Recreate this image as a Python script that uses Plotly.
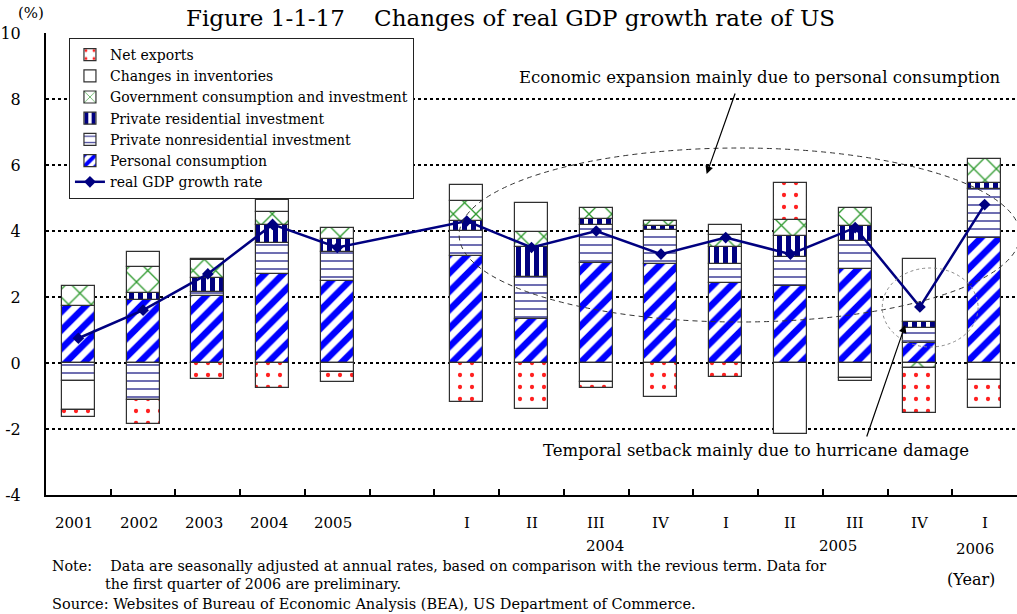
import plotly.graph_objects as go

# Contributions to real GDP growth (percentage points, SAAR)
years = ["2001", "2002", "2003", "2004", "2005"]
quarters = ["I", "II", "III", "IV", "I", "II", "III", "IV", "I"]
quarter_years = ["2004", "2005", "2006"]
y_ticks = [-4, -2, 0, 2, 4, 6, 8, 10]
y_tick_text = ["-4", "-2", "0", "2", "4", "6", "8", "10"]

personal_consumption = [1.73, 1.91, 2.03, 2.69, 2.47, 3.25, 1.32, 3.02, 2.99, 2.41, 2.33, 2.85, 0.60, 3.80]
private_nonres = [-0.54, -1.11, 0.13, 0.94, 0.88, 0.75, 1.28, 1.16, 1.04, 0.59, 0.89, 0.86, 0.45, 1.47]
private_res = [0.00, 0.20, 0.41, 0.55, 0.40, 0.31, 0.93, 0.17, 0.12, 0.52, 0.64, 0.44, 0.20, 0.17]
government = [0.61, 0.81, 0.55, 0.41, 0.35, 0.61, 0.44, 0.35, 0.15, 0.37, 0.46, 0.54, -0.16, 0.74]
inventories = [-0.88, 0.43, 0.03, 0.34, -0.27, 0.48, 0.87, -0.57, 0.00, 0.30, -2.16, -0.45, 1.90, -0.51]
net_exports = [-0.23, -0.74, -0.48, -0.75, -0.31, -1.17, -1.38, -0.18, -1.02, -0.41, 1.12, -0.10, -1.34, -0.84]
gdp_growth = [0.75, 1.6, 2.7, 4.2, 3.5, 4.3, 3.5, 4.0, 3.3, 3.8, 3.3, 4.1, 1.7, 4.8]

FONT = "DejaVu Serif"
NBSP = "\u00a0"

# annual bars, one empty slot, then quarterly bars
x_pos = list(range(len(years))) + [len(years) + 1 + i for i in range(len(quarters))]
labels = years + quarters

# pixel helpers for the plot area (44..1017 wide, 33..495 high)
PX0, PW, PY0, PH = 44.0, 973.0, 33.0, 462.0
X_MIN, X_MAX, Y_MIN, Y_MAX = -0.5, 14.5, -4.0, 10.0


def dx(px):
    return X_MIN + (px - PX0) / PW * (X_MAX - X_MIN)


def dy(py):
    return Y_MAX - (py - PY0) / PH * (Y_MAX - Y_MIN)


def to_paper(px, py):
    return (px - PX0) / PW, 1 - (py - PY0) / PH


fig = go.Figure()

outline = dict(color="#303030", width=1.2)
bar_w = 0.51

series = [
    ("Personal consumption", personal_consumption,
     dict(shape="/", fgcolor="#0000ff", bgcolor="white", size=13, solidity=0.5, fgopacity=1), 6),
    ("Private nonresidential investment", private_nonres,
     dict(shape="-", fgcolor="#4a4a9e", bgcolor="white", size=8, solidity=0.2, fgopacity=1), 5),
    ("Private residential investment", private_res,
     dict(shape="|", fgcolor="#000080", bgcolor="white", size=9, solidity=0.55, fgopacity=1), 4),
    ("Government consumption and investment", government,
     dict(shape="x", fgcolor="#2f9a2f", bgcolor="white", size=16, solidity=0.16, fgopacity=1), 3),
    ("Changes in inventories", inventories, None, 2),
    ("Net exports", net_exports,
     dict(shape=".", fgcolor="#ff2020", bgcolor="white", size=12, solidity=0.1, fgopacity=1), 1),
]

for name, vals, pat, rank in series:
    marker = dict(color="white", line=outline)
    if pat is not None:
        marker["pattern"] = pat
    fig.add_trace(go.Bar(
        x=x_pos, y=vals, name=name, width=bar_w, marker=marker,
        legendrank=rank, hoverinfo="skip",
    ))

fig.add_trace(go.Scatter(
    x=x_pos, y=gdp_growth, name="real GDP growth rate", mode="lines+markers",
    line=dict(color="#000080", width=2.5),
    marker=dict(symbol="diamond", size=9, color="#000080"),
    legendrank=7,
))

annotations = []
# category labels under the axis
for xp, lab in zip(x_pos, labels):
    annotations.append(dict(
        x=xp, y=-4, xref="x", yref="y", text=lab, showarrow=False,
        yshift=-28, xshift=-4 if lab.isdigit() else 0,
        font=dict(family=FONT, size=15, color="black"),
    ))


def paper_text(text, px, py, size, anchor="left"):
    xp, yp = to_paper(px, py)
    annotations.append(dict(
        x=xp, y=yp, xref="paper", yref="paper", text=text, showarrow=False,
        xanchor=anchor, yanchor="middle", align="left",
        font=dict(family=FONT, size=size, color="black"),
    ))


# year labels for quarterly groups
for yr, px, py in zip(quarter_years, [604, 838, 975], [546, 546, 549]):
    paper_text(yr, px, py, 15, "center")

for txt, px, py, size, anchor in [
    ("(%)", 29, 13, 15, "center"),
    ("Economic expansion mainly due to personal consumption", 759, 77, 16.5, "center"),
    ("Temporal setback mainly due to hurricane damage", 755, 450, 16.5, "center"),
    ("Note:" + NBSP * 4 + "Data are seasonally adjusted at annual rates, based on comparison with the revious term. Data for", 48, 566, 14.3, "left"),
    ("the first quarter of 2006 are preliminary.", 101, 584, 14.3, "left"),
    ("Source: Websites of Bureau of Economic Analysis (BEA), US Department of Commerce.", 48, 604, 14.5, "left"),
    ("(Year)", 971, 579, 16, "center"),
]:
    paper_text(txt, px, py, size, anchor)

# arrows pointing at the highlighted regions
for (hx, hy), (tx, ty) in [((706, 174), (735, 92)), ((905, 325), (866, 438))]:
    annotations.append(dict(
        x=dx(hx), y=dy(hy), xref="x", yref="y", ax=tx - hx, ay=ty - hy,
        axref="pixel", ayref="pixel", text="", showarrow=True,
        arrowhead=2, arrowsize=1.3, arrowwidth=1.2, arrowcolor="black",
    ))

shapes = [
    dict(type="circle", xref="x", yref="y",
         x0=dx(458), x1=dx(1020), y0=dy(322), y1=dy(148),
         line=dict(color="#333333", width=1, dash="5px,4px"), layer="above"),
    dict(type="circle", xref="x", yref="y",
         x0=dx(882), x1=dx(978), y0=dy(347), y1=dy(268),
         line=dict(color="#888888", width=1, dash="dot"), layer="above"),
]

fig.update_layout(
    width=1017, height=614,
    margin=dict(l=44, r=0, t=33, b=119),
    paper_bgcolor="white", plot_bgcolor="white",
    barmode="relative", bargap=0,
    title=dict(text="Figure 1-1-17" + NBSP * 4 + "Changes of real GDP growth rate of US",
               x=0.502, xanchor="center", y=1 - 18 / 614, yanchor="middle",
               font=dict(family=FONT, size=23, color="black")),
    font=dict(family=FONT, color="black"),
    showlegend=True,
    legend=dict(
        x=(67 - PX0) / PW, y=1 - (38 - PY0) / PH, xanchor="left", yanchor="top",
        bgcolor="white", bordercolor="#222222", borderwidth=1,
        font=dict(family=FONT, size=14, color="black"),
        tracegroupgap=0, itemwidth=30, entrywidth=380, entrywidthmode="pixels",
    ),
    annotations=annotations,
    shapes=shapes,
)

fig.update_xaxes(
    range=[X_MIN, X_MAX], showgrid=False, zeroline=False,
    showline=True, linecolor="black", linewidth=2,
    tickmode="array", tickvals=[v + 0.5 for v in range(14)], ticktext=[""] * 14,
    ticks="inside", ticklen=6, tickwidth=2, tickcolor="black",
)
fig.update_yaxes(
    range=[Y_MIN, Y_MAX], tickmode="array", tickvals=y_ticks, ticktext=y_tick_text,
    showgrid=True, gridcolor="black", gridwidth=2, griddash="3px,3px",
    zeroline=False, showline=True, linecolor="black", linewidth=2,
    ticks="", ticklabelstandoff=20,
    tickfont=dict(family=FONT, size=16, color="black"),
)

fig.write_html("out.html")
